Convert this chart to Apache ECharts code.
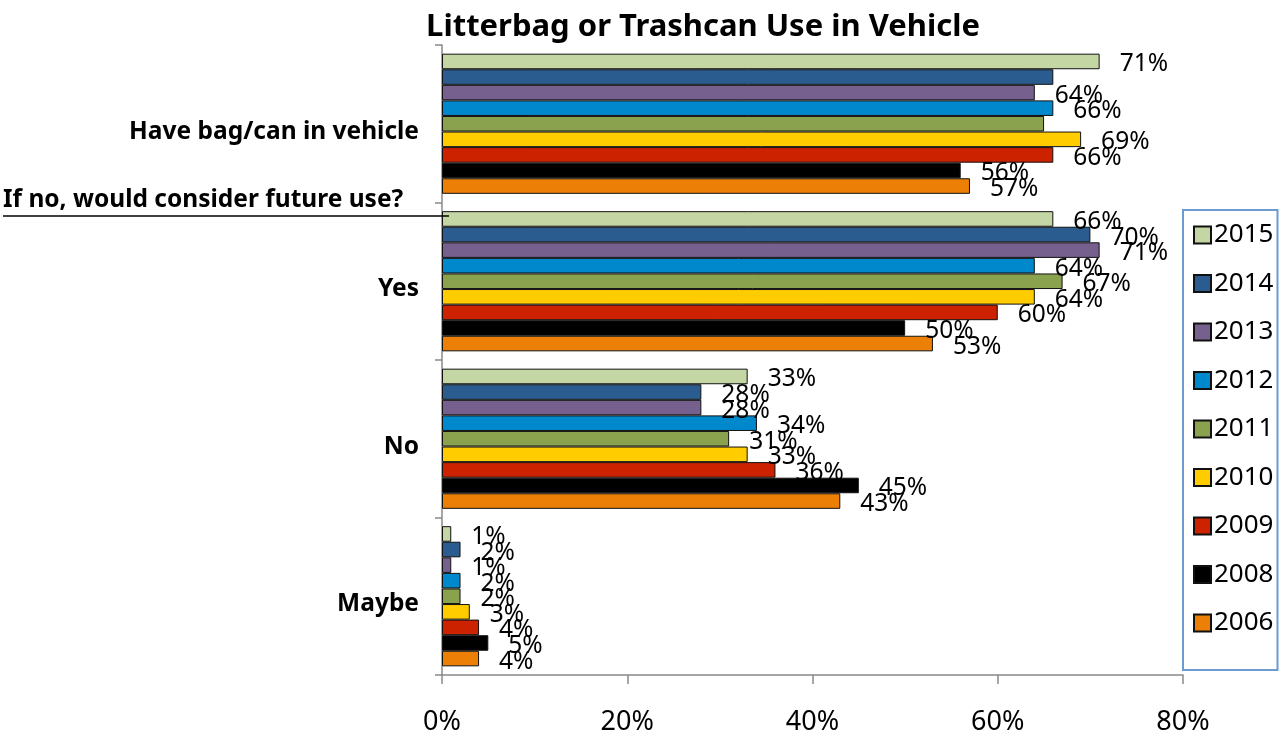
<!DOCTYPE html>
<html>
<head>
<meta charset="utf-8">
<script src="https://cdn.jsdelivr.net/npm/echarts@6/dist/echarts.min.js"></script>
<style>
html,body{margin:0;padding:0;background:#fff;}
#chart{width:1283px;height:736px;}
</style>
</head>
<body>
<div id="chart"></div>
<script>
// ---- data ----
const categories = ['Have bag/can in vehicle', 'Yes', 'No', 'Maybe'];
const years = ['2015', '2014', '2013', '2012', '2011', '2010', '2009', '2008', '2006'];
const v2015 = [71, 66, 33, 1];
const v2014 = [66, 70, 28, 2];
const v2013 = [64, 71, 28, 1];
const v2012 = [66, 64, 34, 2];
const v2011 = [65, 67, 31, 2];
const v2010 = [69, 64, 33, 3];
const v2009 = [66, 60, 36, 4];
const v2008 = [56, 50, 45, 5];
const v2006 = [57, 53, 43, 4];
const xTicks = [0, 20, 40, 60, 80];
const titleText = 'Litterbag or Trashcan Use in Vehicle';
const subHeading = 'If no, would consider future use?';
// labels not shown in the original: [year, categoryIndex]
const hiddenLabels = [['2014', 0], ['2011', 0]];

const seriesValues = [v2015, v2014, v2013, v2012, v2011, v2010, v2009, v2008, v2006];
const colors = ['#C4D6A4', '#2B5C8F', '#76608E', '#0088CC', '#8AA24E', '#FFCC00', '#CC2200', '#000000', '#EC7F05'];

const FONT = '"Noto Sans", "Open Sans", sans-serif';

const chart = echarts.init(document.getElementById('chart'), null, {renderer: 'canvas'});

const series = years.map((y, i) => ({
  name: y,
  type: 'bar',
  barGap: '0%',
  barCategoryGap: '11%',
  itemStyle: {color: colors[i], borderColor: '#111', borderWidth: 1},
  label: {
    show: true,
    position: 'right',
    distance: 20,
    offset: [0, 3],
    formatter: '{c}%',
    color: '#000',
    fontFamily: FONT,
    fontSize: 24.5
  },
  data: seriesValues[i].map((v, ci) => {
    const hide = hiddenLabels.some(h => h[0] === y && h[1] === ci);
    return hide ? {value: v, label: {show: false}} : v;
  })
}));

chart.setOption({
  animation: false,
  backgroundColor: '#fff',
  color: colors,
  title: {
    text: titleText,
    left: 698,
    textAlign: 'center',
    top: 7,
    textStyle: {fontFamily: FONT, fontWeight: 'bold', fontSize: 31, color: '#000'}
  },
  grid: {left: 442, right: 100, top: 45, bottom: 53, containLabel: false},
  legend: {
    orient: 'vertical',
    left: 1183,
    top: 210,
    data: years,
    icon: 'rect',
    itemWidth: 17,
    itemHeight: 17,
    itemGap: 22.5,
    padding: [12, 4, 34, 10],
    backgroundColor: '#fff',
    borderColor: '#6C9BD2',
    borderWidth: 2,
    borderRadius: 0,
    textStyle: {fontFamily: FONT, fontSize: 26, color: '#000', lineHeight: 25, padding: [0, 0, 0, -2]}
  },
  xAxis: {
    type: 'value',
    min: xTicks[0],
    max: xTicks[xTicks.length - 1],
    interval: xTicks[1] - xTicks[0],
    axisLine: {show: true, lineStyle: {color: '#898989', width: 1.5}},
    axisTick: {show: true, length: 9, lineStyle: {color: '#898989', width: 1.5}},
    splitLine: {show: false},
    axisLabel: {formatter: '{value}%', fontFamily: FONT, fontSize: 27, color: '#000', margin: 34}
  },
  yAxis: {
    type: 'category',
    inverse: true,
    data: categories,
    axisLine: {show: true, lineStyle: {color: '#898989', width: 1.5}},
    axisTick: {show: true, length: 7, lineStyle: {color: '#898989', width: 1.5}},
    axisLabel: {
      margin: 23,
      formatter: '{c|{value}}',
      rich: {
        c: {fontFamily: FONT, fontWeight: 'bold', fontSize: 24.5, color: '#000', padding: [16, 0, 0, 0]}
      }
    }
  },
  graphic: [
    {
      type: 'text',
      left: 3,
      top: 188,
      style: {text: subHeading, fontFamily: FONT, fontWeight: 'bold', fontSize: 24.5, fill: '#000'}
    },
    {
      type: 'line',
      shape: {x1: 3, y1: 216, x2: 449, y2: 216},
      style: {stroke: '#000', lineWidth: 1.5},
      z: 100
    }
  ],
  series: series
});
</script>
</body>
</html>
